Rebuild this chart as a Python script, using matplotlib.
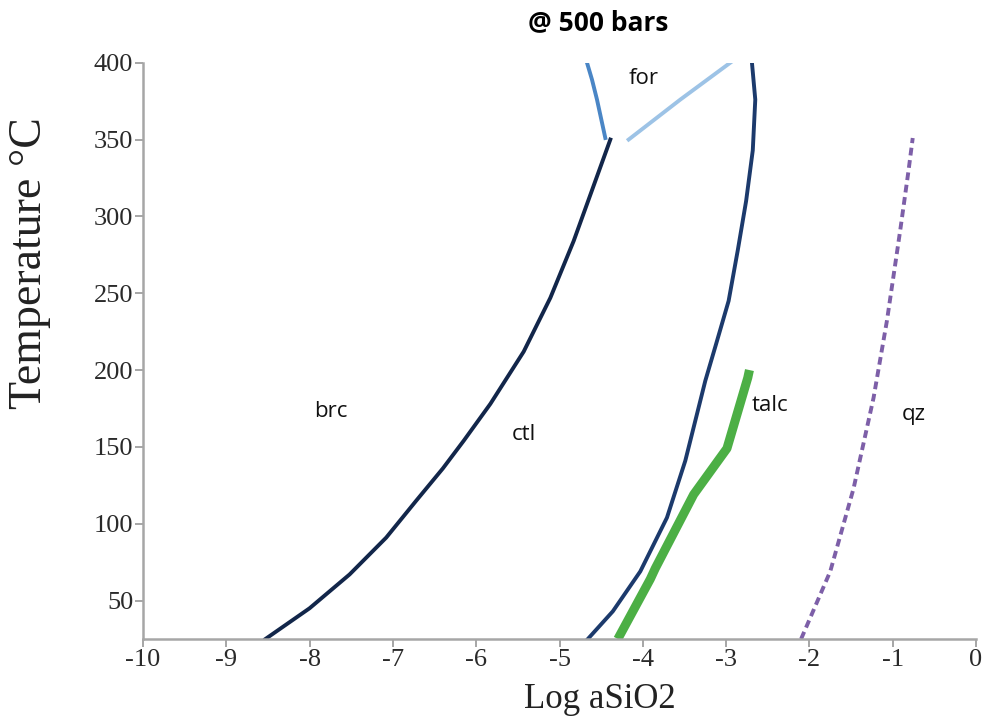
import numpy as np
import matplotlib
matplotlib.use("Agg")
import matplotlib.pyplot as plt

plt.rcParams["axes.unicode_minus"] = False

# phase boundaries (log aSiO2, temperature C)
brc_ctl_x = [-8.53, -8.00, -7.52, -7.08, -6.72, -6.40, -6.15, -5.83, -5.43, -5.11, -4.83, -4.61, -4.39]
brc_ctl_t = [25, 45, 67, 91, 115, 136, 154, 178, 212, 247, 284, 317, 350]

ctl_talc_x = [-4.66, -4.36, -4.03, -3.71, -3.49, -3.25, -3.12, -2.97, -2.86, -2.76, -2.68, -2.65, -2.69]
ctl_talc_t = [25, 43, 69, 104, 141, 193, 217, 245, 278, 310, 343, 376, 400]

talc_x = [-4.30, -3.91, -3.85, -3.39, -3.07, -2.99, -2.74, -2.72]
talc_t = [25, 64, 71, 119, 143, 149, 195, 200]

for_left_x = [-4.67, -4.61, -4.55, -4.45]
for_left_t = [400, 389, 376, 351]

for_right_x = [-4.17, -3.55, -2.95]
for_right_t = [350, 376, 400]

qz_x = [-2.10, -1.75, -1.47, -1.23, -1.07, -0.91, -0.81, -0.76]
qz_t = [25, 69, 123, 182, 232, 291, 330, 351]

labels = ["brc", "ctl", "for", "talc", "qz"]
label_x = [-7.75, -5.43, -3.99, -2.47, -0.75]
label_t = [173, 158, 390, 177, 171]

fig = plt.figure(figsize=(9.88, 7.2), dpi=100)
ax = fig.add_axes([0.1447, 0.1125, 0.8432, 0.8004])

ax.plot(brc_ctl_x, brc_ctl_t, color="#12264a", lw=2.8)
ax.plot(ctl_talc_x, ctl_talc_t, color="#1c3a6c", lw=2.8)
ax.plot(talc_x, talc_t, color="#4caf45", lw=6.5, solid_capstyle="butt")
ax.plot(for_left_x, for_left_t, color="#4a86c6", lw=2.8)
ax.plot(for_right_x, for_right_t, color="#9dc3e6", lw=2.8)
ax.plot(qz_x, qz_t, color="#7d5fa8", lw=2.8, linestyle=(0, (2.0, 1.2)))

for name, lx, lt in zip(labels, label_x, label_t):
    ax.text(lx, lt, name, ha="center", va="center", fontsize=16,
            family="Open Sans", color="#111111")

ax.set_xlim(-10, 0)
ax.set_ylim(25, 400)
ax.set_xticks(np.arange(-10, 1, 1))
ax.set_yticks(np.arange(50, 401, 50))

for side in ["top", "right"]:
    ax.spines[side].set_visible(False)
for side in ["left", "bottom"]:
    ax.spines[side].set_color("#a6a6a6")
    ax.spines[side].set_linewidth(1.8)
ax.tick_params(colors="#a6a6a6", length=6, width=1.4, labelcolor="#2a2a2a",
               labelsize=19, pad=1)
for lab in ax.get_xticklabels() + ax.get_yticklabels():
    lab.set_family("Liberation Serif")

fig.text(0.607, 0.0167, "Log aSiO2", ha="center", va="baseline",
         family="Liberation Serif", fontsize=25, color="#222222")
fig.text(0.0304, 0.6347, "Temperature \u00b0C", ha="center", va="center", rotation=90,
         family="Liberation Serif", fontsize=33, color="#222222")
fig.text(0.605, 0.968, "@ 500 bars", ha="center", va="center", fontsize=19,
         fontweight="bold", family="Open Sans")

fig.savefig("out.png", dpi=100)
